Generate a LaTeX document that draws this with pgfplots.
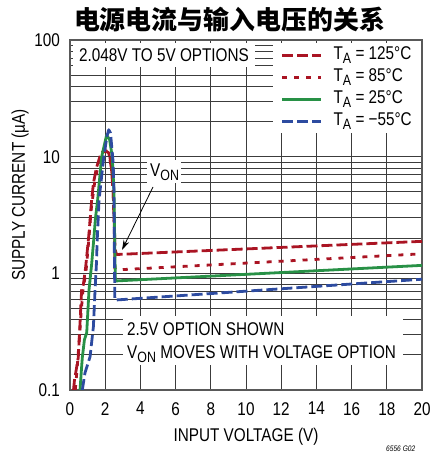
\documentclass[border=0pt]{standalone}
\usepackage{pgfplots}
\pgfplotsset{compat=1.18}
\usepackage{fontspec}
\setmainfont{Liberation Sans}[FakeStretch=0.83]
\newfontfamily\cjk{Noto Sans CJK SC}
\usetikzlibrary{arrows.meta}
\definecolor{cred}{RGB}{170,20,35}
\definecolor{cgreen}{RGB}{40,145,70}
\definecolor{cblue}{RGB}{45,75,160}
\definecolor{gridc}{RGB}{60,60,60}
\newcommand\lbl{\fontsize{18.5}{18.5}\selectfont}
\newcommand\sub[1]{\raisebox{-4bp}{\fontsize{15}{15}\selectfont #1}}
\begin{document}
\begin{tikzpicture}[x=1bp,y=1bp]
\useasboundingbox (0,0) rectangle (434,453);
\begin{axis}[
  at={(70bp,63bp)}, anchor=south west,
  width=352bp, height=350bp, scale only axis,
  ymode=log, xmin=0, xmax=20, ymin=0.1, ymax=100,
  xtick={0,2,...,20},
  ytick={0.1,1,10,100}, yticklabels={0.1,1,10,100},
  minor ytick={0.2,0.3,0.4,0.5,0.6,0.7,0.8,0.9,2,3,4,5,6,7,8,9,20,30,40,50,60,70,80,90},
  grid=both,
  major grid style={gridc, line width=0.9bp},
  minor grid style={gridc, line width=0.9bp},
  axis line style={gray!70!black, line width=1.3bp},
  tick style={draw=none},
  ticklabel style={font=\lbl},
  /pgf/number format/assume math mode=true,
  xticklabel style={inner sep=0pt, yshift=-12bp},
  yticklabel style={inner sep=0pt, xshift=-10bp},
  every axis plot/.append style={line width=2.8bp, line join=round},
  legend style={at={(1,1)}, anchor=north east, xshift=-1bp, yshift=-3bp,
    draw=none, fill=white, font=\lbl, inner xsep=8bp, inner ysep=2bp,
    nodes={inner sep=1bp, text height=13bp, text depth=5bp},
    row sep=2bp, column sep=10bp},
  legend cell align=left,
  legend image code/.code={\draw[#1] (0bp,0bp) -- (39bp,0bp);},
]
\addplot[cred, dash pattern=on 11bp off 4bp] coordinates {
(0.2,0.1)(0.25,0.12)(0.47,0.19)(0.57,0.375)(0.66,0.72)(0.76,0.8)(0.89,1.13)(1.08,2.2)(1.23,4.25)(1.33,5.9)(1.5,8)(1.7,10)(1.85,11)(2.0,11.2)(2.2,10.8)(2.35,8)(2.45,5)(2.52,2.5)(2.56,1.6)(2.65,1.45)(20,1.88)};
\addlegendentry{T\sub{A} = 125°C}
\addplot[cred, dash pattern=on 5bp off 7bp] coordinates {
(0.3,0.1)(0.4,0.15)(0.55,0.3)(0.65,0.5)(0.75,0.75)(0.9,1.0)(1.05,1.8)(1.2,3.5)(1.4,6)(1.6,8.5)(1.8,10.5)(2.0,11.3)(2.2,11)(2.35,8.5)(2.45,5)(2.52,2.2)(2.55,1.1)(2.65,1.07)(20,1.47)};
\addlegendentry{T\sub{A} = 85°C}
\addplot[cgreen] coordinates {
(0.57,0.1)(0.65,0.15)(0.7,0.19)(0.82,0.27)(0.95,0.31)(1.08,0.72)(1.23,1.2)(1.33,1.8)(1.45,3.0)(1.57,4.25)(1.8,10)(2.08,15.3)(2.25,14)(2.4,10)(2.5,5)(2.55,1.5)(2.58,0.86)(20,1.17)};
\addlegendentry{T\sub{A} = 25°C}
\addplot[cblue, dash pattern=on 11bp off 4bp] coordinates {
(0.7,0.1)(0.85,0.14)(1.14,0.193)(1.33,0.35)(1.42,0.7)(1.5,1.2)(1.55,2)(1.65,4.25)(1.9,9.4)(2.1,15)(2.2,17)(2.3,16)(2.45,9)(2.5,5)(2.52,1.5)(2.55,0.59)(20,0.89)};
\addlegendentry{T\sub{A} = −55°C}
\end{axis}
% annotation boxes
\node[fill=white, minimum width=182bp, minimum height=24bp, inner sep=0pt, font=\lbl] at (164,398) {2.048V TO 5V OPTIONS};
\fill[white] (123,88) rectangle (403,137);
\node[anchor=base west, inner sep=0pt, font=\lbl] at (127,117) {2.5V OPTION SHOWN};
\node[anchor=base west, inner sep=0pt, font=\lbl] at (127,94) {V\sub{ON} MOVES WITH VOLTAGE OPTION};
\fill[white] (147,270) rectangle (181,293);
\node[anchor=base west, inner sep=0pt, font=\lbl] at (150,276) {V\sub{ON}};
\draw[line width=0.8bp, -{Stealth[length=10bp,width=6bp]}] (153,266) -- (122,203);
% labels
\node[font=\lbl] at (246,16) {INPUT VOLTAGE (V)};
\node[font=\lbl, rotate=90] at (20,258) {SUPPLY CURRENT (µA)};
\node[anchor=base, inner sep=0pt] at (229.5,423) {\cjk\bfseries\fontsize{26}{26}\selectfont 电源电流与输入电压的关系};
\node[anchor=base west, inner sep=0pt, font=\fontsize{8}{8}\selectfont\itshape] at (386,1.5) {6556 G02};
\end{tikzpicture}
\end{document}
